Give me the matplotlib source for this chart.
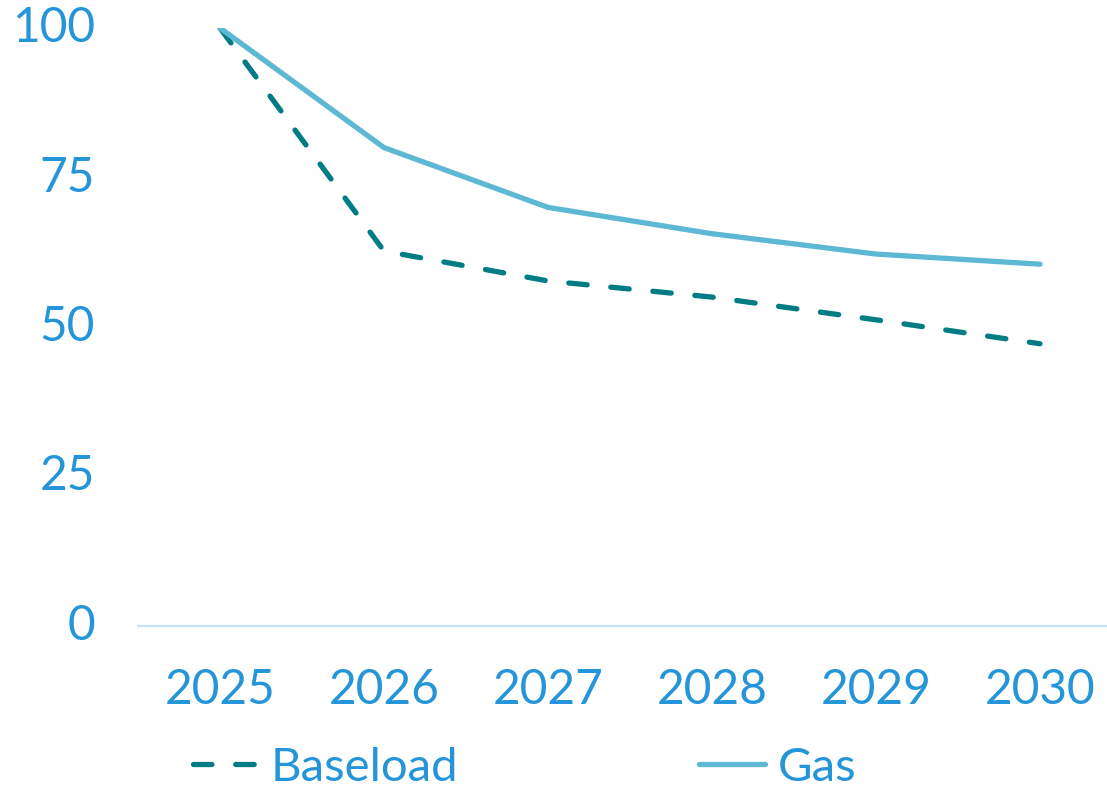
import matplotlib.pyplot as plt

years = ['2025', '2026', '2027', '2028', '2029', '2030']
baseload = [100, 62.7, 57.7, 55.0, 51.2, 47.2]
gas = [100, 80, 70, 65.6, 62.2, 60.5]
y_ticks = [0, 25, 50, 75, 100]

label_blue = '#2595d9'
gas_blue = '#5db8d3'
teal = '#007c84'

plt.rcParams['font.family'] = ['Lato', 'DejaVu Sans']

fig = plt.figure(figsize=(11.07, 7.88), dpi=100)
ax = fig.add_axes([138 / 1107, 162 / 788, 984 / 1107, 598 / 788])

x = range(len(years))
ax.plot(x, baseload, color=teal, lw=3.8, dashes=(3.5, 4.5),
        dash_capstyle='round', solid_capstyle='round', label='Baseload')
ax.plot(x, gas, color=gas_blue, lw=3.8, solid_capstyle='round', label='Gas')

ax.set_xlim(-0.5, 5.5)
ax.set_ylim(0, 100)
ax.set_xticks(list(x))
ax.set_xticklabels(years)
ax.set_yticks(y_ticks)
ax.tick_params(length=0, labelsize=34.5, colors=label_blue)
ax.tick_params(axis='x', pad=30)
ax.tick_params(axis='y', pad=31)
for lbl in ax.get_yticklabels():
    lbl.set_verticalalignment('center')

for side in ['top', 'right', 'left']:
    ax.spines[side].set_visible(False)
ax.spines['bottom'].set_color('#c5e3f5')
ax.spines['bottom'].set_linewidth(1.5)

leg = fig.legend(loc='center left', bbox_to_anchor=(193 / 1107, 1 - 768 / 788),
                 ncol=2, frameon=False, fontsize=34, handlelength=1.4,
                 handletextpad=0.25, columnspacing=5.1, borderpad=0,
                 borderaxespad=0)
for t in leg.get_texts():
    t.set_color(label_blue)

fig.savefig('out.png', dpi=100)
